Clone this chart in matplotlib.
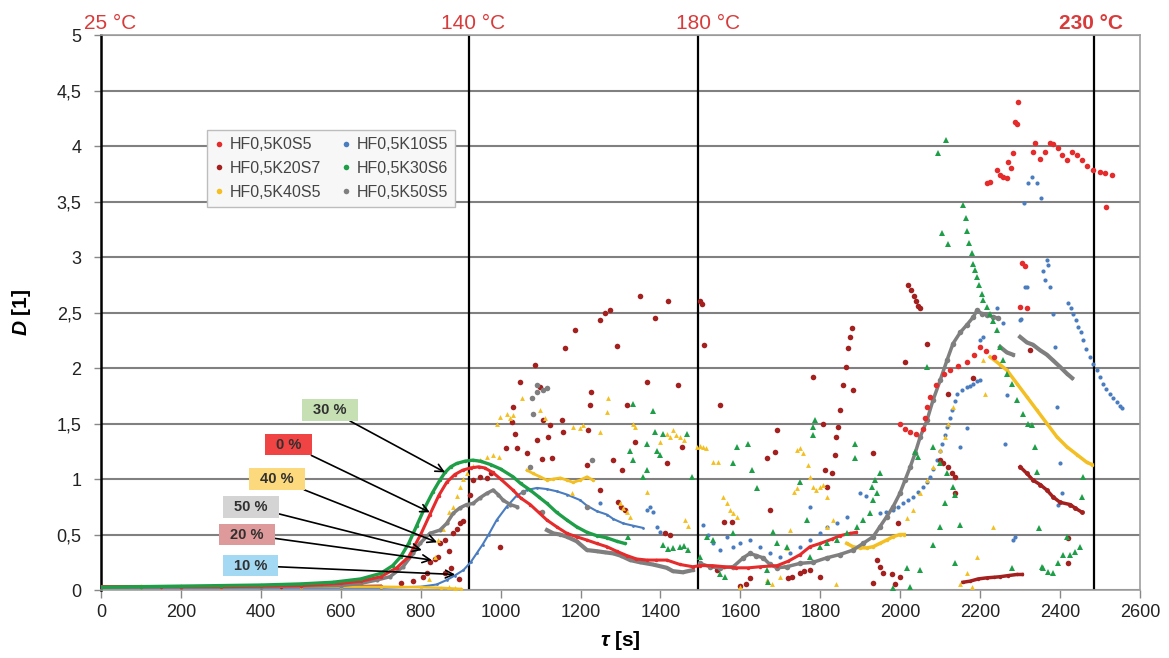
import numpy as np
import matplotlib.pyplot as plt
from matplotlib.lines import Line2D

plt.rcParams['font.family'] = ['Liberation Sans', 'DejaVu Sans']
plt.rcParams['mathtext.fontset'] = 'custom'
plt.rcParams['mathtext.it'] = 'Liberation Sans:italic:bold'
plt.rcParams['mathtext.rm'] = 'Liberation Sans:bold'

# ---------------- data: (tau [s], D [1]) ----------------
# HF0,5K0S5  (0 %)
k0_curve = np.array([(0, 0.03), (100, 0.03), (200, 0.03), (300, 0.03), (400, 0.035), (500, 0.04),
                     (550, 0.05), (600, 0.06), (650, 0.08), (700, 0.12), (740, 0.2), (770, 0.3),
                     (800, 0.5), (823, 0.68), (845, 0.85), (865, 0.97), (885, 1.04), (905, 1.08),
                     (925, 1.10), (945, 1.11), (960, 1.10), (980, 1.06), (1000, 1.00), (1031, 0.90),
                     (1050, 0.83), (1074, 0.77), (1095, 0.70), (1116, 0.63), (1140, 0.57), (1166, 0.51),
                     (1190, 0.48), (1216, 0.45), (1240, 0.42), (1266, 0.39), (1290, 0.35), (1316, 0.31),
                     (1340, 0.28), (1366, 0.27), (1390, 0.27), (1416, 0.27), (1449, 0.23), (1481, 0.21),
                     (1500, 0.22), (1530, 0.22), (1560, 0.21), (1590, 0.20), (1620, 0.20), (1650, 0.21),
                     (1692, 0.22), (1720, 0.26), (1750, 0.32), (1774, 0.39), (1800, 0.42), (1830, 0.46),
                     (1850, 0.49), (1874, 0.51), (1890, 0.52)])
k0_late = np.array([(2000, 1.50), (2012, 1.45), (2025, 1.42), (2040, 1.41), (2057, 1.45), (2062, 1.55),
                    (2068, 1.65), (2074, 1.74), (2090, 1.85), (2110, 1.95), (2125, 1.98), (2145, 2.02),
                    (2167, 2.05), (2185, 2.12), (2200, 2.19), (2215, 2.15), (2235, 2.10)])
k0_high = np.array([(2217, 3.67), (2225, 3.68), (2242, 3.78), (2250, 3.74), (2257, 3.72), (2267, 3.71),
                    (2270, 3.86), (2277, 3.80), (2282, 3.94), (2287, 4.22), (2292, 4.20), (2295, 4.40),
                    (2300, 2.55), (2305, 2.95), (2312, 2.92), (2317, 2.54), (2332, 3.95), (2337, 4.03),
                    (2350, 3.88), (2362, 3.95), (2375, 4.03), (2382, 4.02), (2395, 3.98), (2404, 3.92),
                    (2417, 3.87), (2430, 3.95), (2442, 3.92), (2455, 3.87), (2467, 3.82), (2482, 3.78),
                    (2500, 3.77), (2512, 3.76), (2515, 3.45), (2530, 3.74)])

# HF0,5K10S5  (10 %)
k10_curve = np.array([(0, 0.02), (200, 0.02), (400, 0.02), (600, 0.02), (700, 0.02), (800, 0.03),
                      (840, 0.05), (865, 0.09), (885, 0.13), (907, 0.18), (925, 0.25), (940, 0.33),
                      (955, 0.41), (970, 0.50), (990, 0.63), (1015, 0.75), (1040, 0.85), (1065, 0.90),
                      (1091, 0.92), (1115, 0.91), (1140, 0.89), (1166, 0.86), (1199, 0.81), (1216, 0.76),
                      (1241, 0.71), (1266, 0.68), (1282, 0.64), (1307, 0.60), (1331, 0.58), (1356, 0.56)])
k10_mid = np.array([(1249, 0.78), (1366, 0.72), (1375, 0.75), (1381, 0.70), (1391, 0.57), (1400, 0.52),
                    (1507, 0.59), (1520, 0.50), (1532, 0.42), (1549, 0.36), (1566, 0.48), (1582, 0.39),
                    (1600, 0.42), (1624, 0.45), (1649, 0.39), (1674, 0.33), (1699, 0.30), (1724, 0.33),
                    (1749, 0.39), (1774, 0.45), (1774, 0.75), (1799, 0.51), (1816, 0.57), (1841, 0.60),
                    (1866, 0.66), (1899, 0.87), (1915, 0.85)])
k10_rise = np.array([(1949, 0.69), (1965, 0.70), (1982, 0.72), (1995, 0.75), (2007, 0.78), (2020, 0.81),
                     (2032, 0.84), (2045, 0.88), (2057, 0.93), (2066, 0.97), (2074, 1.02), (2083, 1.09),
                     (2092, 1.17), (2099, 1.25), (2105, 1.32), (2111, 1.40), (2117, 1.47), (2124, 1.55),
                     (2130, 1.62), (2136, 1.70), (2142, 1.77), (2155, 1.80), (2167, 1.83), (2175, 1.84),
                     (2183, 1.86), (2192, 1.88), (2200, 1.89)])
k10_high = np.array([(2150, 1.29), (2167, 1.46), (2200, 2.25), (2208, 2.28), (2242, 2.54), (2258, 2.41),
                     (2262, 1.32), (2267, 1.76), (2282, 0.45), (2287, 0.48), (2300, 2.43), (2302, 2.44),
                     (2310, 3.49), (2312, 2.73), (2317, 2.73), (2320, 3.67), (2330, 3.72), (2342, 3.67),
                     (2352, 3.53), (2357, 2.87), (2362, 2.79), (2367, 2.97), (2370, 2.93), (2375, 2.73),
                     (2382, 2.49), (2387, 2.19), (2392, 1.65), (2395, 0.77), (2400, 1.14), (2404, 0.87)])
k10_fall = np.array([(2420, 2.59), (2427, 2.54), (2432, 2.49), (2440, 2.43), (2445, 2.37), (2452, 2.32),
                     (2457, 2.25), (2466, 2.17), (2475, 2.10), (2483, 2.04), (2492, 1.98), (2500, 1.92),
                     (2507, 1.86), (2516, 1.81), (2525, 1.77), (2533, 1.73), (2542, 1.69), (2549, 1.66),
                     (2555, 1.64)])

# HF0,5K20S7  (20 %)
k20_base = np.array([(0, 0.03), (150, 0.03), (300, 0.035), (450, 0.03), (600, 0.035), (700, 0.04)])
k20_scatter = np.array([
    (750, 0.06), (780, 0.08), (806, 0.12), (815, 0.15), (823, 0.25), (835, 0.28), (843, 0.30),
    (848, 0.42), (860, 0.45), (870, 0.35), (881, 0.51), (890, 0.55), (898, 0.60), (906, 0.62),
    (923, 0.86), (931, 0.99), (948, 1.02), (965, 1.01), (975, 1.05), (860, 0.15), (875, 0.20),
    (895, 0.10), (998, 0.39), (1014, 1.28), (1029, 1.51), (1031, 1.65), (1036, 1.41), (1041, 1.28),
    (1049, 1.87), (1066, 1.23), (1086, 2.03), (1091, 1.35), (1099, 1.83), (1104, 1.18), (1106, 1.53),
    (1119, 1.38), (1124, 1.49), (1129, 1.19), (1154, 1.53), (1156, 1.42), (1161, 2.18), (1186, 2.34),
    (1216, 1.13), (1219, 1.44), (1224, 1.67), (1226, 1.78), (1249, 0.90), (1249, 2.43), (1262, 2.50),
    (1274, 2.52), (1282, 1.17), (1291, 2.20), (1294, 0.79), (1300, 0.75), (1304, 1.08), (1310, 0.72),
    (1316, 1.67), (1336, 1.33), (1349, 2.65), (1366, 1.87), (1386, 2.45), (1411, 0.51), (1416, 1.14),
    (1419, 2.60), (1425, 0.50), (1444, 1.85), (1454, 1.29), (1499, 2.60), (1504, 2.58), (1509, 2.21),
    (1549, 1.67), (1541, 0.18), (1560, 0.61), (1579, 0.61), (1600, 0.04), (1615, 0.05), (1624, 0.11),
    (1666, 1.19), (1674, 0.72), (1686, 1.24), (1691, 1.44), (1719, 0.11), (1730, 0.12), (1749, 0.15),
    (1760, 0.17), (1775, 0.18), (1782, 1.92), (1799, 0.12), (1807, 1.50), (1812, 1.08), (1816, 0.93),
    (1829, 1.05), (1837, 1.22), (1840, 1.38), (1844, 1.47), (1849, 1.62), (1857, 1.85), (1864, 2.01),
    (1869, 2.18), (1874, 2.28), (1879, 2.36), (1882, 1.80), (1932, 1.23), (1932, 0.06), (1941, 0.27),
    (1949, 0.21), (1957, 0.15), (1979, 0.14), (1987, 0.05), (1994, 0.60), (1999, 0.12), (2012, 2.05),
    (2020, 2.75), (2027, 2.70), (2035, 2.65), (2040, 2.60), (2045, 2.56), (2050, 2.54), (2067, 2.22),
    (2100, 1.17), (2107, 1.14), (2120, 1.11), (2130, 1.05), (2137, 1.02), (2137, 0.87), (2120, 1.77),
    (2183, 1.91), (2325, 2.16), (2420, 0.47), (2420, 0.24)])
k20_low = np.array([(2157, 0.07), (2175, 0.08), (2195, 0.10), (2217, 0.11), (2235, 0.115),
                    (2250, 0.12), (2270, 0.13), (2292, 0.14), (2305, 0.14)])
k20_fall = np.array([(2300, 1.11), (2317, 1.05), (2332, 0.99), (2350, 0.95), (2367, 0.90),
                     (2382, 0.84), (2400, 0.79), (2425, 0.77), (2437, 0.74), (2455, 0.70)])

# HF0,5K30S6  (30 %)
k30_curve = np.array([(0, 0.025), (100, 0.03), (200, 0.035), (300, 0.04), (400, 0.045), (500, 0.055),
                      (580, 0.07), (650, 0.10), (700, 0.15), (730, 0.22), (750, 0.30), (770, 0.42),
                      (790, 0.58), (810, 0.74), (830, 0.88), (848, 0.99), (861, 1.06), (875, 1.11),
                      (890, 1.14), (910, 1.16), (930, 1.17), (950, 1.16), (975, 1.13), (1000, 1.09),
                      (1031, 1.02), (1050, 0.96), (1074, 0.90), (1095, 0.84), (1116, 0.78), (1140, 0.70),
                      (1166, 0.63), (1190, 0.57), (1216, 0.52), (1240, 0.49), (1266, 0.47), (1290, 0.44),
                      (1310, 0.42)])
k30_scatter = np.array([
    (1319, 0.48), (1324, 1.25), (1331, 1.68), (1331, 1.17), (1356, 1.02), (1366, 1.32), (1366, 1.08),
    (1381, 1.61), (1386, 1.42), (1391, 1.25), (1399, 1.22), (1406, 1.41), (1406, 0.41), (1420, 0.37),
    (1431, 0.38), (1449, 0.39), (1460, 0.40), (1466, 1.41), (1470, 0.36), (1479, 1.02), (1499, 0.30),
    (1516, 0.48), (1532, 0.45), (1549, 0.14), (1561, 0.12), (1582, 0.51), (1582, 1.14), (1591, 1.29),
    (1620, 1.32), (1629, 1.08), (1641, 0.92), (1666, 0.18), (1669, 0.07), (1682, 0.52), (1691, 0.42),
    (1716, 0.39), (1749, 0.97), (1766, 0.63), (1774, 0.30), (1782, 1.47), (1782, 1.40), (1787, 1.53),
    (1799, 0.39), (1816, 0.42), (1841, 0.45), (1866, 0.51), (1887, 1.32), (1887, 1.19), (1891, 0.57),
    (1907, 0.63), (1924, 0.69), (1929, 0.93), (1932, 0.81), (1937, 0.99), (1941, 0.87), (1949, 1.05),
    (1982, 0.02), (2017, 0.20), (2025, 0.03), (2037, 1.24), (2045, 1.20), (2050, 0.18), (2067, 2.01),
    (2082, 1.29), (2082, 0.41), (2095, 3.94), (2100, 1.14), (2100, 0.57), (2105, 3.22), (2112, 0.78),
    (2115, 4.05), (2117, 1.05), (2120, 3.12), (2132, 0.93), (2137, 0.86), (2137, 0.24), (2150, 0.59),
    (2280, 0.20), (2337, 1.29), (2342, 1.06), (2347, 0.56), (2354, 0.21), (2357, 0.20), (2370, 0.16),
    (2382, 0.15), (2395, 0.24), (2407, 0.32), (2417, 0.48), (2425, 0.32), (2437, 0.34), (2450, 0.39),
    (2455, 0.84), (2457, 1.02)])
k30_fall = np.array([(2157, 3.47), (2164, 3.35), (2168, 3.23), (2172, 3.13), (2180, 3.04), (2183, 2.94),
                     (2188, 2.88), (2193, 2.82), (2197, 2.75), (2204, 2.67), (2208, 2.61), (2216, 2.55),
                     (2225, 2.49), (2233, 2.42), (2242, 2.34), (2250, 2.19), (2258, 2.07), (2267, 1.95),
                     (2280, 1.86), (2292, 1.71), (2307, 1.59), (2320, 1.50), (2330, 1.49)])

# HF0,5K40S5  (40 %)
k40_base = np.array([(0, 0.03), (100, 0.035), (200, 0.03), (300, 0.03), (400, 0.035), (500, 0.03),
                     (600, 0.03), (700, 0.03), (800, 0.025), (850, 0.02), (900, 0.01)])
k40_scatter = np.array([
    (820, 0.10), (835, 0.30), (843, 0.45), (855, 0.55), (865, 0.62), (872, 0.70), (881, 0.75),
    (890, 0.85), (898, 0.93), (906, 1.00), (915, 1.05), (930, 1.12), (948, 1.17), (965, 1.20),
    (981, 1.22), (995, 1.20), (870, 0.03), (885, 0.02), (990, 1.50), (998, 1.56), (1015, 1.59),
    (1024, 1.55), (1031, 1.58), (1054, 1.73), (1099, 1.62), (1110, 1.55), (1179, 0.87), (1181, 1.47),
    (1199, 1.46), (1206, 1.49), (1249, 1.42), (1266, 1.60), (1269, 1.73), (1299, 0.78), (1307, 0.74),
    (1316, 0.70), (1324, 0.66), (1331, 1.50), (1336, 1.47), (1366, 0.88), (1399, 1.33), (1416, 1.41),
    (1424, 1.38), (1431, 1.44), (1440, 1.40), (1449, 1.38), (1460, 1.35), (1461, 0.63), (1470, 0.58),
    (1491, 1.29), (1500, 1.30), (1507, 1.29), (1515, 1.28), (1532, 1.15), (1545, 1.15), (1557, 0.84),
    (1566, 0.78), (1575, 0.72), (1582, 0.69), (1591, 0.66), (1599, 0.03), (1666, 0.09), (1680, 0.05),
    (1700, 0.12), (1710, 0.22), (1716, 0.38), (1724, 0.54), (1735, 0.88), (1741, 0.92), (1741, 1.26),
    (1749, 1.28), (1757, 1.23), (1769, 1.13), (1774, 1.02), (1782, 0.93), (1790, 0.90), (1799, 0.93),
    (1807, 0.95), (1816, 0.84), (1816, 0.57), (1832, 0.63), (1840, 0.05), (2150, 0.05), (2167, 0.15),
    (2180, 0.03), (2192, 0.30), (2208, 2.07), (2212, 1.77), (2232, 0.57)])
k40_mid = np.array([(1066, 1.08), (1081, 1.05), (1099, 1.02), (1116, 0.99), (1132, 1.00), (1149, 1.01),
                    (1166, 0.99), (1181, 0.97), (1199, 0.99), (1216, 1.02), (1231, 0.99)])
k40_valley = np.array([(1866, 0.42), (1882, 0.39), (1899, 0.38), (1916, 0.38), (1932, 0.39),
                       (1949, 0.42), (1966, 0.45), (1982, 0.48), (1999, 0.50), (2010, 0.50)])
k40_rise = np.array([(2017, 0.65), (2032, 0.72), (2050, 0.87), (2067, 0.99), (2082, 1.11),
                     (2100, 1.26), (2112, 1.38), (2120, 1.50), (2132, 1.65)])
k40_fall = np.array([(2225, 2.10), (2250, 2.03), (2267, 1.98), (2292, 1.86), (2317, 1.74), (2342, 1.62),
                     (2367, 1.50), (2392, 1.38), (2417, 1.29), (2442, 1.22), (2467, 1.15), (2480, 1.13)])

# HF0,5K50S5  (50 %)
k50_curve = np.array([(0, 0.03), (200, 0.03), (400, 0.03), (500, 0.035), (600, 0.04), (650, 0.06),
                      (690, 0.09), (723, 0.12), (756, 0.21), (781, 0.33), (798, 0.42), (823, 0.51),
                      (848, 0.54), (865, 0.60), (881, 0.69), (898, 0.74), (915, 0.77), (931, 0.78),
                      (948, 0.83), (965, 0.87), (981, 0.90), (994, 0.86), (1006, 0.81), (1024, 0.77),
                      (1041, 0.75)])
k50_scatter = np.array([(1056, 0.88), (1074, 1.11), (1079, 1.73), (1081, 1.59), (1090, 1.78),
                        (1090, 1.85), (1104, 0.70), (1106, 1.80), (1115, 1.82), (1216, 0.75),
                        (1229, 1.17)])
k50_decay = np.array([(1116, 0.54), (1132, 0.51), (1149, 0.50), (1166, 0.48), (1190, 0.44), (1216, 0.36),
                      (1240, 0.35), (1260, 0.34), (1282, 0.33), (1300, 0.31), (1324, 0.27), (1349, 0.25),
                      (1381, 0.23), (1416, 0.20), (1431, 0.17), (1456, 0.16), (1481, 0.18)])
k50_rise = np.array([(1499, 0.24), (1524, 0.21), (1550, 0.20), (1582, 0.21), (1607, 0.29), (1624, 0.33),
                     (1640, 0.31), (1657, 0.29), (1674, 0.23), (1692, 0.20), (1716, 0.21), (1749, 0.24),
                     (1782, 0.25), (1816, 0.29), (1849, 0.32), (1882, 0.36), (1907, 0.42), (1932, 0.48),
                     (1949, 0.57), (1966, 0.66), (1982, 0.75), (1999, 0.87), (2012, 0.99), (2025, 1.11),
                     (2037, 1.23), (2050, 1.38), (2067, 1.53), (2082, 1.71), (2100, 1.89), (2117, 2.07),
                     (2132, 2.22), (2150, 2.32), (2167, 2.39), (2183, 2.46), (2192, 2.52), (2204, 2.49),
                     (2217, 2.48), (2232, 2.46), (2245, 2.45)])
k50_step = np.array([(2250, 2.19), (2267, 2.14), (2282, 2.12)])
k50_fall = np.array([(2300, 2.28), (2317, 2.23), (2332, 2.21), (2350, 2.16), (2367, 2.12), (2382, 2.07),
                     (2400, 2.01), (2417, 1.95), (2430, 1.91)])

# temperature marks along the time axis
temp_lines = [920, 1493, 2485]
temp_labels = ['25 °C', '140 °C', '180 °C', '230 °C']
temp_label_x = [-42, 931, 1519, 2477]

# arrow call-outs: label, box colour, label position, arrow tip
callout_text = ['30 %', '0 %', '40 %', '50 %', '20 %', '10 %']
callout_color = ['#c6e0b4', '#f04343', '#fdd97e', '#d4d4d4', '#de9a9a', '#a3d9f2']
callout_xy_text = [(573, 1.62), (470, 1.31), (440, 1.00), (375, 0.75), (365, 0.50), (375, 0.22)]
callout_xy_tip = [(861, 1.06), (823, 0.70), (841, 0.43), (803, 0.36), (828, 0.27), (886, 0.14)]

c_k0 = '#e52b2b'
c_k10 = '#4a7cc0'
c_k20 = '#a3201f'
c_k30 = '#1f9e48'
c_k40 = '#f3bf23'
c_k50 = '#7f7f7f'

fig = plt.figure(figsize=(11.69, 6.58), dpi=100)
ax = fig.add_axes([0.0864, 0.1033, 0.8888, 0.8435])


def line(pts, color, lw=2.0, marker='o', ms=2.5):
    ax.plot(pts[:, 0], pts[:, 1], color=color, lw=lw, marker=marker, ms=ms, mew=0, zorder=3)


def dots(pts, color, marker='o', ms=3.5):
    ax.plot(pts[:, 0], pts[:, 1], ls='none', color=color, marker=marker, ms=ms, mew=0, zorder=3)


# blue
line(k10_curve, c_k10, lw=1.5, ms=2)
dots(k10_mid, c_k10, ms=3)
dots(k10_rise, c_k10, ms=3)
dots(k10_high, c_k10, ms=3)
dots(k10_fall, c_k10, ms=3)
# dark red
line(k20_base, c_k20, lw=1.5)
dots(k20_scatter, c_k20, ms=4)
line(k20_low, c_k20, lw=2.5)
line(k20_fall, c_k20, lw=2.5, ms=3.5)
# yellow
line(k40_base, c_k40, lw=1.8)
dots(k40_scatter, c_k40, marker='^', ms=3.5)
line(k40_mid, c_k40, lw=2)
line(k40_valley, c_k40, lw=2.5)
dots(k40_rise, c_k40, marker='^', ms=3.5)
line(k40_fall, c_k40, lw=2.5)
# grey
line(k50_curve, c_k50, lw=2.5, ms=3)
dots(k50_scatter, c_k50, ms=4)
line(k50_decay, c_k50, lw=3)
line(k50_rise, c_k50, lw=2.5, ms=4)
line(k50_step, c_k50, lw=3)
line(k50_fall, c_k50, lw=3)
# red
line(k0_curve, c_k0, lw=2.2)
dots(k0_late, c_k0, ms=4)
dots(k0_high, c_k0, ms=4)
# green
line(k30_curve, c_k30, lw=2.4)
dots(k30_scatter, c_k30, marker='^', ms=4)
dots(k30_fall, c_k30, marker='^', ms=4)

# vertical temperature lines
for t in temp_lines:
    ax.axvline(t, color='black', lw=1.6, zorder=2)
for lbl, x in zip(temp_labels, temp_label_x):
    ax.text(x, 5.05, lbl, color='#d93a3a', fontsize=15, ha='left' if x < 0 else 'center',
            va='baseline', fontweight='bold' if lbl.startswith('230') else 'normal', clip_on=False)

# call-outs
for txt, fc, xyt, tip in zip(callout_text, callout_color, callout_xy_text, callout_xy_tip):
    ax.annotate(txt, xy=tip, xytext=xyt, ha='center', va='center', fontsize=10.5,
                fontweight='bold', color='#303030', zorder=6,
                bbox=dict(boxstyle='square,pad=0.75', fc=fc, ec='none', mutation_aspect=0.35),
                arrowprops=dict(arrowstyle='->', color='black', lw=1.2, mutation_scale=14,
                                shrinkA=0, shrinkB=0))

# axes
ax.set_xlim(0, 2600)
ax.set_ylim(0, 5)
ax.set_xticks(np.arange(0, 2601, 200))
yt = np.arange(0, 5.01, 0.5)
ax.set_yticks(yt)
ax.set_yticklabels([('%g' % v).replace('.', ',') for v in yt])
ax.yaxis.grid(True, color='#808080', lw=1.5, zorder=1)
ax.set_axisbelow(True)
ax.tick_params(axis='x', direction='out', length=6, width=1, color='#888888',
               labelsize=13, labelcolor='#222222', pad=4)
ax.tick_params(axis='y', direction='out', length=5, width=1, color='#888888',
               labelsize=13, labelcolor='#222222', pad=9)
ax.spines['left'].set_color('black')
ax.spines['left'].set_linewidth(1.8)
for s in ['bottom', 'top', 'right']:
    ax.spines[s].set_color('#a0a0a0')
    ax.spines[s].set_linewidth(1.2)

ax.set_xlabel(r'$\tau$ [s]', fontsize=15, fontweight='bold', labelpad=6)
ax.set_ylabel(r'$D$ [1]', fontsize=15, fontweight='bold', labelpad=17)

# legend (column-major order for two columns)
handles = [Line2D([], [], ls='none', marker='o', ms=4, mew=0, color=c)
           for c in [c_k0, c_k20, c_k40, c_k10, c_k30, c_k50]]
names = ['HF0,5K0S5', 'HF0,5K20S7', 'HF0,5K40S5', 'HF0,5K10S5', 'HF0,5K30S6', 'HF0,5K50S5']
leg = ax.legend(handles, names, ncol=2, loc='upper left', bbox_to_anchor=(0.102, 0.829),
                borderaxespad=0, fontsize=11.5, handlelength=0.6, handletextpad=0.35,
                columnspacing=1.3, labelspacing=0.55, borderpad=0.45, fancybox=False,
                framealpha=1, facecolor='#f7f7f7', edgecolor='#bdbdbd')
leg.get_frame().set_linewidth(1.0)
for t in leg.get_texts():
    t.set_color('#444444')
leg.set_zorder(7)

fig.savefig('out.png', dpi=100)
